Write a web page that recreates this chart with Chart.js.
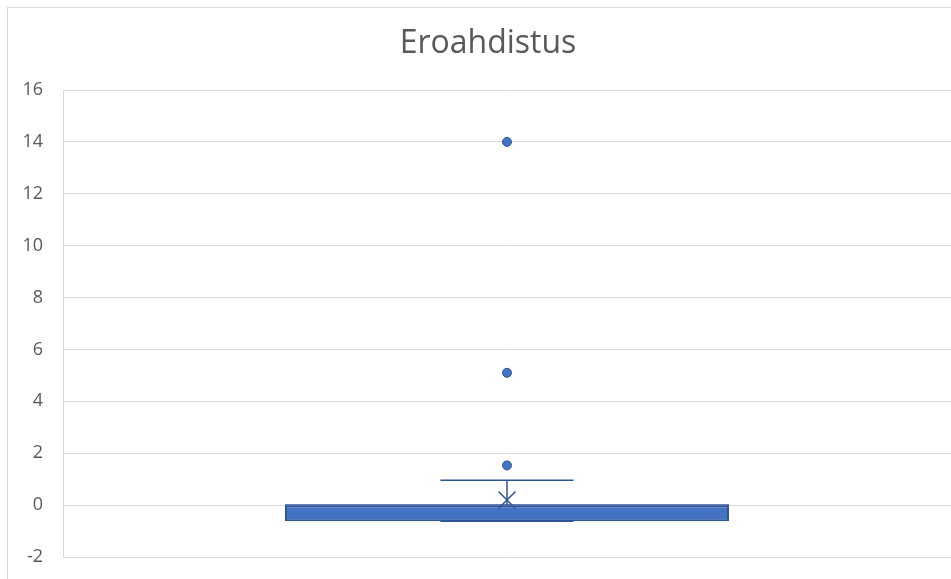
<!DOCTYPE html>
<html>
<head>
<meta charset="utf-8">
<script src="https://cdn.jsdelivr.net/npm/chart.js@4.4.0/dist/chart.umd.min.js"></script>
<style>
  html, body { margin: 0; padding: 0; background: #fff; overflow: hidden; }
  #wrap { width: 951px; height: 579px; }
  canvas { display: block; }
</style>
</head>
<body>
<div id="wrap"><canvas id="boxChart" width="951" height="579"></canvas></div>
<script>
// box plot values
const chartTitle = 'Eroahdistus';
const categories = ['Eroahdistus'];
const q1 = [-0.62];
const q3 = [0];
const medians = [0];
const whiskerLow = [-0.62];
const whiskerHigh = [0.96];
const means = [0.2];
const outliers = [1.53, 5.1, 14.0];
const yTicks = [-2, 0, 2, 4, 6, 8, 10, 12, 14, 16];

const boxBlue = '#4472C4';
const lineBlue = '#2F5597';
const gridGray = '#D9D9D9';
const textGray = '#595959';

// outer chart border like the excel chart frame
const framePlugin = {
    id: 'frame',
    beforeDraw(chart) {
        const c = chart.ctx;
        c.save();
        c.strokeStyle = gridGray;
        c.lineWidth = 1;
        c.strokeRect(7.5, 7.5, chart.width + 10, chart.height + 10);
        c.restore();
    }
};

// title is centred on the whole excel chart frame, which runs past the right edge
const titlePlugin = {
    id: 'frameTitle',
    afterDraw(chart) {
        const c = chart.ctx;
        c.save();
        c.fillStyle = textGray;
        c.font = '32px "Open Sans"';
        c.textAlign = 'center';
        c.textBaseline = 'middle';
        c.fillText(chartTitle, 488, 44);
        c.restore();
    }
};

// whiskers + median drawn with the scales
const whiskerPlugin = {
    id: 'whiskers',
    afterDatasetsDraw(chart) {
        const c = chart.ctx;
        const y = chart.scales.y;
        const meta = chart.getDatasetMeta(0);
        c.save();
        c.strokeStyle = lineBlue;
        c.lineWidth = 1.5;
        meta.data.forEach(function(bar, i) {
            const cx = bar.x;
            const half = bar.width * 0.15;
            const yTop = y.getPixelForValue(whiskerHigh[i]);
            const yQ3 = y.getPixelForValue(q3[i]);
            const yLow = y.getPixelForValue(whiskerLow[i]);
            const yQ1 = y.getPixelForValue(q1[i]);
            c.beginPath();
            c.moveTo(cx, yQ3);
            c.lineTo(cx, yTop);
            c.moveTo(cx - half, yTop);
            c.lineTo(cx + half, yTop);
            c.moveTo(cx, yQ1);
            c.lineTo(cx, yLow);
            c.moveTo(cx - half, yLow);
            c.lineTo(cx + half, yLow);
            c.stroke();
            // median line
            const ym = y.getPixelForValue(medians[i]);
            c.beginPath();
            c.moveTo(bar.x - bar.width / 2, ym);
            c.lineTo(bar.x + bar.width / 2, ym);
            c.stroke();
        });
        c.restore();
    }
};

const ctx = document.getElementById('boxChart');

new Chart(ctx.getContext('2d'), {
    data: {
        labels: categories,
        datasets: [
            {
                type: 'bar',
                label: 'box',
                data: categories.map((_, i) => [q1[i], q3[i]]),
                backgroundColor: boxBlue,
                borderColor: lineBlue,
                borderWidth: 2,
                borderSkipped: false,
                barPercentage: 0.5,
                categoryPercentage: 1,
                grouped: false,
                order: 3
            },
            {
                type: 'line',
                label: 'mean',
                data: means,
                showLine: false,
                pointStyle: 'crossRot',
                pointRadius: 12,
                pointBorderColor: lineBlue,
                pointBorderWidth: 1.5,
                order: 1
            },
            {
                type: 'line',
                label: 'outliers',
                data: outliers.map(v => ({ x: categories[0], y: v })),
                showLine: false,
                pointStyle: 'circle',
                pointRadius: 4.5,
                pointBackgroundColor: boxBlue,
                pointBorderColor: lineBlue,
                pointBorderWidth: 1,
                order: 0
            }
        ]
    },
    options: {
        responsive: false,
        animation: false,
        layout: {
            autoPadding: false,
            padding: { left: 7, top: 90, right: 0, bottom: 22 }
        },
        plugins: {
            legend: { display: false },
            tooltip: { enabled: false },
            title: { display: false }
        },
        scales: {
            x: {
                display: false
            },
            y: {
                min: -2,
                max: 16,
                afterBuildTicks(scale) {
                    scale.ticks = yTicks.map(v => ({ value: v }));
                },
                afterFit(scale) {
                    scale.width = 56;
                    // tick padding should only push labels sideways
                    scale.paddingTop = 0;
                    scale.paddingBottom = 0;
                },
                grid: { color: gridGray, lineWidth: 1, drawTicks: false },
                border: { display: true, color: gridGray, width: 1 },
                ticks: {
                    color: textGray,
                    padding: 20,
                    font: { family: 'Open Sans', size: 18 }
                }
            }
        }
    },
    plugins: [framePlugin, whiskerPlugin, titlePlugin]
});
</script>
</body>
</html>
